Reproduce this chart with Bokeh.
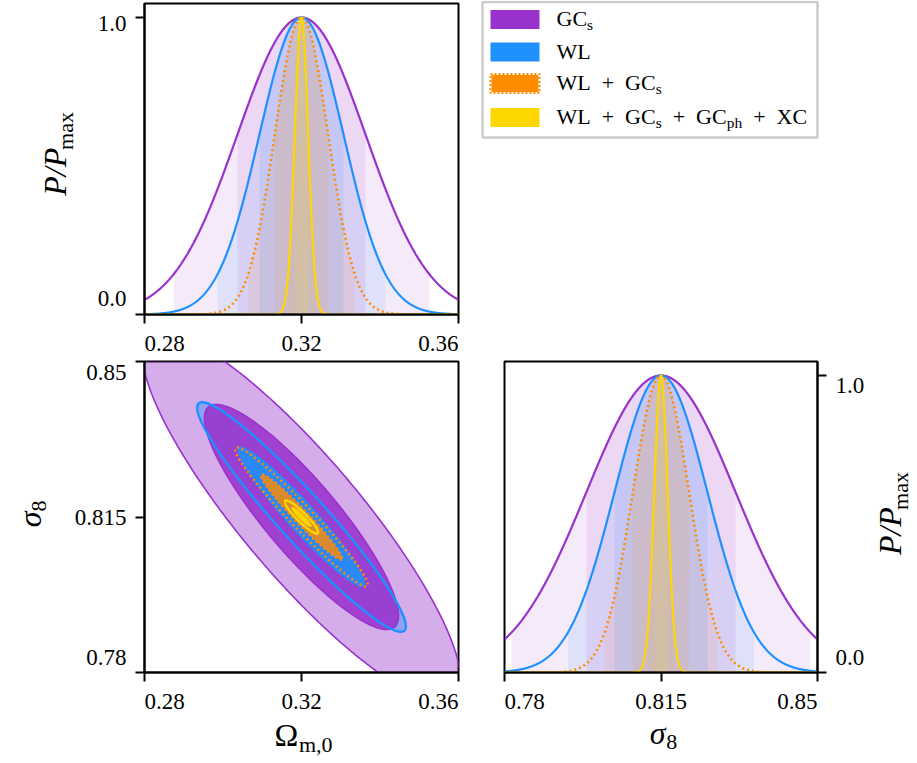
import numpy as np
from bokeh.plotting import figure
from bokeh.models import Range1d, FixedTicker, CustomJSTickFormatter, Spacer
from bokeh.layouts import row, column
from bokeh.embed import file_html
from bokeh.resources import INLINE
from bokeh.core.properties import value

# ---------------- data ----------------
probe_names = ["GC_s", "WL", "WL + GC_s", "WL + GC_s + GC_ph + XC"]
probe_colors = ["#9932CC", "#1E90FF", "#FF8C00", "#FFD700"]
om_fid = 0.32
s8_fid = 0.815
om_sigma = [0.0163, 0.0107, 0.0068, 0.0017]
s8_sigma = [0.0167, 0.0104, 0.0063, 0.0015]
om_s8_corr = [-0.878, -0.952, -0.972, -0.92]
om_ticks = [0.28, 0.32, 0.36]
om_tick_labels = ["0.28", "0.32", "0.36"]
s8_ticks = [0.78, 0.815, 0.85]
s8_tick_labels = ["0.78", "0.815", "0.85"]
p_ticks = [0.0, 1.0]
p_tick_labels = ["0.0", "1.0"]
chi2_levels = [2.30, 6.17]   # 1 sigma, 2 sigma (2D)

FONT = "Liberation Serif"
TICK_FS = 23
LAB_FS = 32
SUB_FS = 22
MID = 0.34   # 'alphabetic' anchor renders ~0.34 em above the true baseline

OM_RANGE = (0.28, 0.36)
S8_RANGE = (0.78, 0.85)
P_RANGE = (0.0, 1.047)

FRAME_W_OM = 314.0
FRAME_W_S8 = 313.0
FRAME_H = 311.0
PPU_P = FRAME_H / (P_RANGE[1] - P_RANGE[0])
PPU_S8Y = FRAME_H / (S8_RANGE[1] - S8_RANGE[0])
PPU_OM = FRAME_W_OM / (OM_RANGE[1] - OM_RANGE[0])
PPU_S8X = FRAME_W_S8 / (S8_RANGE[1] - S8_RANGE[0])


def ext(rng, ppu, before, after):
    return Range1d(rng[0] - before / ppu, rng[1] + after / ppu)


def txt(p, x, y, s, size, align="left", baseline="alphabetic", angle=0.0,
        style="normal"):
    p.text(x=[x], y=[y], text=[s], text_font=value(FONT),
           text_font_size=value(f"{size}px"), text_align=align,
           text_baseline=baseline, angle=angle, text_font_style=style,
           text_color="black")


def style_fig(p):
    p.outline_line_color = "black"
    p.outline_line_width = 2
    p.xgrid.visible = False
    p.ygrid.visible = False
    p.background_fill_color = "white"
    p.border_fill_color = "white"
    for ax in p.axis:
        ax.axis_line_width = 2
        ax.major_tick_line_width = 2
        ax.major_tick_out = 9
        ax.major_tick_in = 0
        ax.minor_tick_line_color = None
        ax.major_label_standoff = 0
        ax.major_label_text_font_size = "0px"
        ax.formatter = CustomJSTickFormatter(code="return ''")


def make_fig(w, h, xr, yr, bl, br, bt, bb, yloc="left"):
    return figure(width=w, height=h, x_range=xr, y_range=yr,
                  output_backend="svg", toolbar_location=None, title=None,
                  y_axis_location=yloc,
                  min_border_left=bl, min_border_right=br,
                  min_border_top=bt, min_border_bottom=bb)


def strip(w, h, xr, yr):
    p = figure(width=w, height=h, x_range=xr, y_range=yr,
               output_backend="svg", toolbar_location=None, title=None,
               x_axis_type=None, y_axis_type=None,
               min_border_left=0, min_border_right=0,
               min_border_top=0, min_border_bottom=0)
    p.outline_line_color = None
    p.background_fill_color = "white"
    p.border_fill_color = "white"
    return p


def gauss(x, mu, s):
    return np.exp(-0.5 * ((x - mu) / s) ** 2)


def draw_1d(p, mu, sigmas, lo, hi):
    for k in (2, 1):
        for s, c in zip(sigmas, probe_colors):
            a, b = max(lo, mu - k * s), min(hi, mu + k * s)
            xb = np.linspace(a, b, 400)
            p.varea(x=xb, y1=np.zeros_like(xb), y2=gauss(xb, mu, s),
                    fill_color=c, fill_alpha=0.1)
    xx = np.linspace(lo, hi, 1600)
    for i, (s, c) in enumerate(zip(sigmas, probe_colors)):
        if i == 2:
            p.line(xx, gauss(xx, mu, s), line_color=c, line_width=2.6,
                   line_dash="2 3")
        else:
            p.line(xx, gauss(xx, mu, s), line_color=c, line_width=2.2)


# widths (em) of label pieces in Liberation Serif
W_PP = 1.5      # "P/P" italic
W_MAX = 1.722   # "max"
W_OMEGA = 0.768
W_M0 = 1.528    # "m,0"
W_SIG = 0.52
W_8 = 0.5

# ================= ROW 1 (page y 0..354) =================
xrA = Range1d(*OM_RANGE)
yrA = Range1d(*P_RANGE)
pA = make_fig(340, 326, xrA, yrA, 12, 14, 3, 12)
pA.xaxis.ticker = FixedTicker(ticks=om_ticks)
pA.yaxis.ticker = FixedTicker(ticks=p_ticks)
style_fig(pA)
draw_1d(pA, om_fid, om_sigma, *OM_RANGE)

# left strip of A: page x 0..132, page y 0..326 (frame of A: 3..314)
lA = strip(132, 326, Range1d(0, 132), ext(P_RANGE, PPU_P, 12, 3))
txt(lA, 126, p_ticks[1] + 3.5 / PPU_P, p_tick_labels[1], TICK_FS,
    align="right", baseline="top")
txt(lA, 126, p_ticks[0] - 3.5 / PPU_P, p_tick_labels[0], TICK_FS,
    align="right", baseline="bottom")
L = W_PP * LAB_FS + W_MAX * SUB_FS
y0 = 158.5 + L / 2            # page y of the start (bottom) of the text
txt(lA, 65 - MID * LAB_FS, (314 - y0) / PPU_P, "P/P", LAB_FS,
    angle=np.pi / 2, style="italic")
txt(lA, 72 - MID * SUB_FS, (314 - (y0 - W_PP * LAB_FS)) / PPU_P, "max",
    SUB_FS, angle=np.pi / 2)

# bottom strip of A: page x 132..472, page y 326..354
bA = strip(340, 28, ext(OM_RANGE, PPU_OM, 12, 14), Range1d(28, 0))
for v, t, al in zip(om_ticks, om_tick_labels, ["left", "center", "right"]):
    txt(bA, v, 9, t, TICK_FS, align=al, baseline="top")

# legend: page x 472..915, y 0..354
pL = figure(width=443, height=354, x_range=Range1d(0, 443),
            y_range=Range1d(354, 0), output_backend="svg",
            toolbar_location=None, title=None, x_axis_type=None,
            y_axis_type=None, min_border_left=0, min_border_right=0,
            min_border_top=0, min_border_bottom=0)
pL.outline_line_color = None
pL.background_fill_color = "white"
pL.border_fill_color = "white"
pL.quad(left=10, right=345, top=1.5, bottom=137, fill_color="white",
        line_color="#cccccc", line_width=2.5)
patch_y = [19, 51.5, 83, 117]
for i, (c, yc) in enumerate(zip(probe_colors, patch_y)):
    if i == 2:
        pL.quad(left=19, right=66, top=yc - 8.5, bottom=yc + 8.5,
                fill_color=c, line_color=None)
        pL.quad(left=18, right=67, top=yc - 9.5, bottom=yc + 9.5,
                fill_color=None, line_color=c, line_width=2, line_dash="2 2")
    else:
        pL.quad(left=18, right=67, top=yc - 9.5, bottom=yc + 9.5,
                fill_color=c, line_color=None)
LFS, LSF = 22, 15.5
EN = "\u2002"
x0 = 84
base_y = [yc + 6.5 for yc in patch_y]          # true baselines
ty = [b - MID * LFS for b in base_y]
sy = [b + 4 - MID * LSF for b in base_y]
txt(pL, x0, ty[0], "GC", LFS)
txt(pL, x0 + 1.389 * LFS, sy[0], "s", LSF)
txt(pL, x0, ty[1], "WL", LFS)
seg1 = f"WL{EN}+{EN}GC"
w1 = 4.508 * LFS
txt(pL, x0, ty[2], seg1, LFS)
txt(pL, x0 + w1, sy[2], "s", LSF)
txt(pL, x0, ty[3], seg1, LFS)
xs = x0 + w1
txt(pL, xs, sy[3], "s", LSF)
xs += 0.389 * LSF
txt(pL, xs, ty[3], f"{EN}+{EN}GC", LFS)
xs += 2.953 * LFS
txt(pL, xs, sy[3], "ph", LSF)
xs += 1.0 * LSF
txt(pL, xs, ty[3], f"{EN}+{EN}XC", LFS)

# ================= ROW 2 (page y 354..760) =================
xrB = Range1d(*OM_RANGE)
yrB = Range1d(*S8_RANGE)
pB = make_fig(346, 330, xrB, yrB, 12, 20, 7, 12)
pB.xaxis.ticker = FixedTicker(ticks=om_ticks)
pB.yaxis.ticker = FixedTicker(ticks=s8_ticks)
style_fig(pB)
tt = np.linspace(0, 2 * np.pi, 500)


def ellipse(i, d2):
    k = np.sqrt(d2)
    r = om_s8_corr[i]
    ex = om_fid + k * om_sigma[i] * np.cos(tt)
    ey = s8_fid + k * s8_sigma[i] * (r * np.cos(tt) + np.sqrt(1 - r * r) * np.sin(tt))
    return np.append(ex, ex[0]), np.append(ey, ey[0])


fill2 = [0.4, 0.38, 0.0, 0.0]
fill1 = [0.88, 0.9, 0.82, 0.95]
for i, c in enumerate(probe_colors):
    if fill2[i] > 0:
        ex, ey = ellipse(i, chi2_levels[1])
        pB.patch(ex, ey, fill_color=c, fill_alpha=fill2[i], line_color=None)
for i, c in enumerate(probe_colors):
    ex, ey = ellipse(i, chi2_levels[0])
    pB.patch(ex, ey, fill_color=c, fill_alpha=fill1[i], line_color=None)
for d2 in chi2_levels:
    ex, ey = ellipse(0, d2)
    pB.line(ex, ey, line_color=probe_colors[0], line_width=1.6)
ex, ey = ellipse(1, chi2_levels[1])
pB.line(ex, ey, line_color=probe_colors[1], line_width=2.4)
for d2 in chi2_levels:
    ex, ey = ellipse(2, d2)
    pB.line(ex, ey, line_color=probe_colors[2], line_width=2.6,
            line_dash="2 3")
ex, ey = ellipse(3, chi2_levels[1])
pB.line(ex, ey, line_color=probe_colors[3], line_width=2.4)

# left strip of B: page x 0..132, y 354..684 (frame 361..672)
lB = strip(132, 330, Range1d(0, 132), ext(S8_RANGE, PPU_S8Y, 12, 7))
txt(lB, 126, s8_ticks[2] + 3.0 / PPU_S8Y, s8_tick_labels[2], TICK_FS,
    align="right", baseline="top")
txt(lB, 126, s8_ticks[1] - 3.5 / PPU_S8Y, s8_tick_labels[1], TICK_FS,
    align="right", baseline="middle")
txt(lB, 126, s8_ticks[0] - 4.5 / PPU_S8Y, s8_tick_labels[0], TICK_FS,
    align="right", baseline="bottom")
L = W_SIG * LAB_FS + W_8 * SUB_FS
y0 = 516 + L / 2
txt(lB, 40 - MID * LAB_FS, S8_RANGE[0] + (672 - y0) / PPU_S8Y, "\u03c3",
    LAB_FS, angle=np.pi / 2, style="italic")
txt(lB, 46 - MID * SUB_FS,
    S8_RANGE[0] + (672 - (y0 - W_SIG * LAB_FS)) / PPU_S8Y, "8",
    SUB_FS, angle=np.pi / 2)

# bottom strip of B: page x 132..478, y 684..760
bB = strip(346, 76, ext(OM_RANGE, PPU_OM, 12, 20), Range1d(76, 0))
for v, t, al in zip(om_ticks, om_tick_labels, ["left", "center", "right"]):
    txt(bB, v, 9, t, TICK_FS, align=al, baseline="top")
L = W_OMEGA * LAB_FS + W_M0 * SUB_FS
xs0 = 303 - L / 2
txt(bB, OM_RANGE[0] + (xs0 - 144) / PPU_OM, 745 - 684 - MID * LAB_FS,
    "\u03a9", LAB_FS)
txt(bB, OM_RANGE[0] + (xs0 + W_OMEGA * LAB_FS - 144) / PPU_OM,
    751 - 684 - MID * SUB_FS, "m,0", SUB_FS)

# panel C: page x 478..829, frame 504..817
xrC = Range1d(*S8_RANGE)
yrC = Range1d(*P_RANGE)
pC = make_fig(351, 330, xrC, yrC, 26, 12, 7, 12, yloc="right")
pC.xaxis.ticker = FixedTicker(ticks=s8_ticks)
pC.yaxis.ticker = FixedTicker(ticks=p_ticks)
style_fig(pC)
draw_1d(pC, s8_fid, s8_sigma, *S8_RANGE)

# right strip of C: page x 829..915
rC = strip(86, 330, Range1d(0, 86), ext(P_RANGE, PPU_P, 12, 7))
txt(rC, 6, p_ticks[1] + 3.0 / PPU_P, p_tick_labels[1], TICK_FS,
    align="left", baseline="top")
txt(rC, 6, p_ticks[0] - 4.5 / PPU_P, p_tick_labels[0], TICK_FS,
    align="left", baseline="bottom")
L = W_PP * LAB_FS + W_MAX * SUB_FS
y0 = 516.5 + L / 2
txt(rC, 900 - 829 - MID * LAB_FS, (672 - y0) / PPU_P, "P/P", LAB_FS,
    angle=np.pi / 2, style="italic")
txt(rC, 907 - 829 - MID * SUB_FS, (672 - (y0 - W_PP * LAB_FS)) / PPU_P,
    "max", SUB_FS, angle=np.pi / 2)

# bottom strip of C: page x 478..829
bC = strip(351, 76, ext(S8_RANGE, PPU_S8X, 26, 12), Range1d(76, 0))
for v, t, al in zip(s8_ticks, s8_tick_labels, ["left", "center", "right"]):
    txt(bC, v, 9, t, TICK_FS, align=al, baseline="top")
L = W_SIG * LAB_FS + W_8 * SUB_FS
xs0 = 663 - L / 2
txt(bC, S8_RANGE[0] + (xs0 - 504) / PPU_S8X, 743 - 684 - MID * LAB_FS,
    "\u03c3", LAB_FS, style="italic")
txt(bC, S8_RANGE[0] + (xs0 + W_SIG * LAB_FS - 504) / PPU_S8X,
    749 - 684 - MID * SUB_FS, "8", SUB_FS)

row1 = row(column(row(lA, pA), row(Spacer(width=132, height=28), bA)), pL)
row2 = row(column(row(lB, pB), row(Spacer(width=132, height=76), bB)),
           column(row(pC, rC), row(bC, Spacer(width=86, height=76))))
layout = column(row1, row2)

with open("out.html", "w") as f:
    f.write(file_html(layout, INLINE))
